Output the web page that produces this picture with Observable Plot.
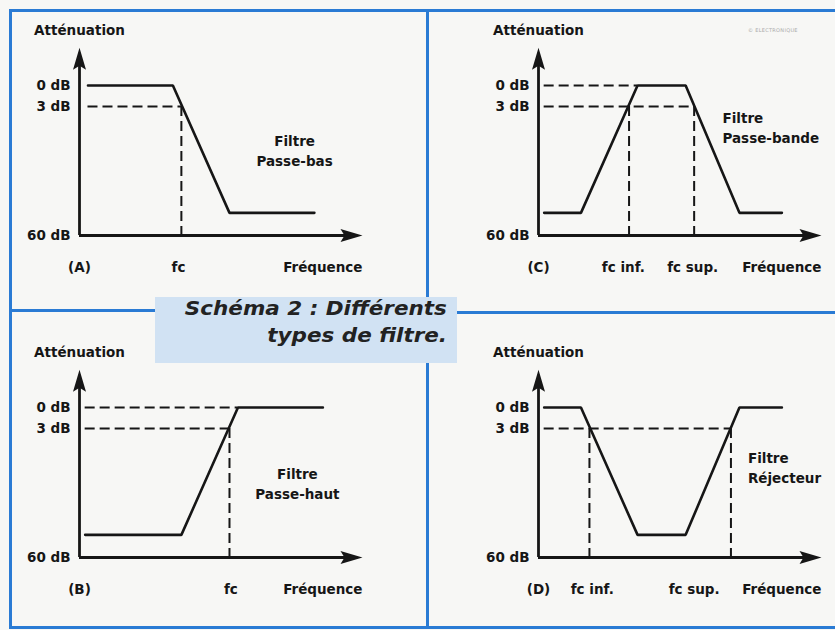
<!DOCTYPE html>
<html>
<head>
<meta charset="utf-8">
<script src="https://cdn.jsdelivr.net/npm/d3@7"></script>
<script src="https://cdn.jsdelivr.net/npm/@observablehq/plot@0.6"></script>
<style>
  html, body { margin: 0; padding: 0; background: #f7f7f5; }
  #page { position: relative; width: 835px; height: 630px; overflow: hidden; background: #f7f7f5; }
  .bl { position: absolute; background: #2a7bd4; }
  .panel { position: absolute; }
  .panel svg { background: transparent; overflow: visible; }
  #caption { position: absolute; left: 155px; top: 297px; width: 302px; height: 66px; background: #d1e2f3; }
  #caption div { position: absolute; right: 10px; font-family: "DejaVu Sans", sans-serif; font-weight: bold; font-style: italic;
    font-size: 19px; color: #222; white-space: nowrap; transform: scale(1.13, 1); transform-origin: right center; }
  #copy { position: absolute; left: 748px; top: 27px; font: 5px "DejaVu Sans", sans-serif; color: #aaa; letter-spacing: 0.3px; }
</style>
</head>
<body>
<div id="page">
  <div class="bl" style="left:9px;top:9px;width:826px;height:3px"></div>
  <div class="bl" style="left:9px;top:9px;width:3px;height:620px"></div>
  <div class="bl" style="left:9px;top:626px;width:826px;height:3px"></div>
  <div class="bl" style="left:426px;top:9px;width:3px;height:620px"></div>
  <div class="bl" style="left:9px;top:309px;width:150px;height:3px"></div>
  <div class="bl" style="left:455px;top:311px;width:380px;height:3px"></div>
  <div id="caption">
    <div style="top:0px">Schéma 2 : Différents</div>
    <div style="top:27px">types de filtre.</div>
  </div>
  <div id="copy">© ELECTRONIQUE</div>
  <div class="panel" id="pA" style="left:0px;top:0px"></div>
  <div class="panel" id="pC" style="left:459px;top:0px"></div>
  <div class="panel" id="pB" style="left:0px;top:322px"></div>
  <div class="panel" id="pD" style="left:459px;top:322px"></div>
</div>
<script>
// ---- Data (frequency in arbitrary units 0–100, attenuation in dB) ----
const tickDb = [0, 3, 60];
const tickLabels = ["0 dB", "3 dB", "60 dB"];

// (A) Passe-bas
const freqA = [3, 33, 53, 83];
const attA = [0, 0, 50, 50];
const cutA = [36];
const cutLabelsA = ["fc"];
const cutLabelPosA = [35];

// (B) Passe-haut
const freqB = [2, 36, 56, 86];
const attB = [50, 50, 0, 0];
const cutB = [53];
const cutLabelsB = ["fc"];
const cutLabelPosB = [53.5];

// (C) Passe-bande
const freqC = [2, 15, 35, 52, 71, 86];
const attC = [50, 50, 0, 0, 50, 50];
const cutC = [32, 55];
const cutLabelsC = ["fc inf.", "fc sup."];
const cutLabelPosC = [30, 54.5];

// (D) Réjecteur
const freqD = [2, 15, 35, 52, 71, 86];
const attD = [0, 0, 50, 50, 0, 0];
const cutD = [18, 68];
const cutLabelsD = ["fc inf.", "fc sup."];
const cutLabelPosD = [19, 55];

const panelLetters = ["(A)", "(B)", "(C)", "(D)"];
const filterNames = ["Filtre\nPasse-bas", "Filtre\nPasse-haut", "Filtre\nPasse-bande", "Filtre\nRéjecteur"];
const filterNameX = [76, 77, 65, 74];
const filterNameY = [22, 27, 12, 20];
const dashStart = [3, 2, 2, 2];

// ---- Drawing ----
const ink = "#161616";
const arrowHead = {
  draw(ctx) { // tip at origin, pointing up
    ctx.moveTo(0, 0);
    ctx.lineTo(6.5, 22);
    ctx.lineTo(0, 18);
    ctx.lineTo(-6.5, 22);
    ctx.closePath();
  }
};

function panel(i, freq, att, cuts, cutLabels, cutLabelPos, zeroDash, nameAnchor) {
  const pts = freq.map((f, k) => ({f, a: att[k]}));
  const dash = {stroke: ink, strokeWidth: 2, strokeDasharray: "10,5"};
  const marks = [
    Plot.axisY(tickDb, {anchor: "left", tickSize: 0, tickPadding: 9,
      tickFormat: d => tickLabels[tickDb.indexOf(d)], fill: ink}),
    // axes
    Plot.ruleX([0], {y1: 60, y2: -3, stroke: ink, strokeWidth: 2.8}),
    Plot.ruleY([60], {x1: 0, x2: 96, stroke: ink, strokeWidth: 2.8}),
    Plot.dot([{x: 0, y: -5.4, r: 0}, {x: 100, y: 60, r: 90}],
      {x: "x", y: "y", rotate: "r", symbol: arrowHead, fill: ink, stroke: "none"}),
    // dashed guide lines
    Plot.ruleY([3], {x1: dashStart[i], x2: d3.max(cuts), ...dash}),
    Plot.ruleX(cuts, {y1: 3, y2: 60, ...dash}),
  ];
  if (zeroDash != null) {
    marks.push(Plot.ruleY([0], {x1: dashStart[i], x2: zeroDash, ...dash}));
  }
  marks.push(
    Plot.line(pts, {x: "f", y: "a", stroke: ink, strokeWidth: 2.6, strokeLinejoin: "miter"}),
    Plot.text(["Atténuation"], {x: 0, y: -5.4, dy: -17, fill: ink}),
    Plot.text([panelLetters[i]], {x: 0, y: 60, dy: 32, fill: ink}),
    Plot.text(cutLabelPos, {x: d => d, y: 60, dy: 32, text: (d, k) => cutLabels[k], fill: ink}),
    Plot.text(["Fréquence"], {x: 100, y: 60, dy: 32, textAnchor: "end", fill: ink}),
    Plot.text([filterNames[i]], {x: filterNameX[i], y: filterNameY[i], textAnchor: nameAnchor, lineHeight: 1.45, fill: ink})
  );
  return Plot.plot({
    width: 376, height: 308,
    marginLeft: 79, marginRight: 14, marginTop: 40, marginBottom: 73,
    x: {type: "linear", domain: [0, 100], axis: null},
    y: {type: "linear", domain: [0, 3, 60], range: [85, 106, 235]},
    style: {background: "transparent", fontFamily: "'DejaVu Sans', sans-serif", fontSize: "13.5px", fontWeight: "bold", color: ink},
    marks
  });
}

document.getElementById("pA").append(panel(0, freqA, attA, cutA, cutLabelsA, cutLabelPosA, null, "middle"));
document.getElementById("pB").append(panel(1, freqB, attB, cutB, cutLabelsB, cutLabelPosB, 56, "middle"));
document.getElementById("pC").append(panel(2, freqC, attC, cutC, cutLabelsC, cutLabelPosC, 35, "start"));
document.getElementById("pD").append(panel(3, freqD, attD, cutD, cutLabelsD, cutLabelPosD, null, "start"));
</script>
</body>
</html>
